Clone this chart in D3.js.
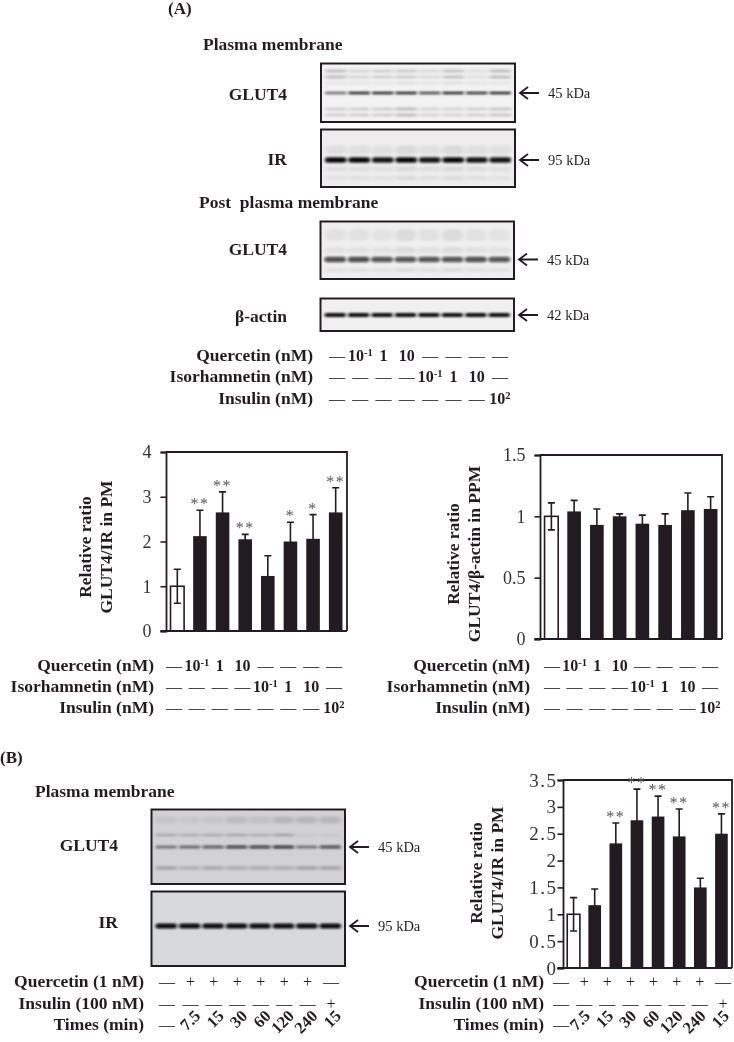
<!DOCTYPE html>
<html>
<head>
<meta charset="utf-8">
<script src="https://cdn.jsdelivr.net/npm/d3@7"></script>
<style>
  body { margin: 0; background: #fff; }
  svg { display: block; }
  text { font-family: "Liberation Serif", serif; fill: #231f20; white-space: pre; }
  .bold { font-weight: bold; }
</style>
</head>
<body>
<svg width="734" height="1042"></svg>
<script>
// bar values
const ratioIrA = [1.0, 2.12, 2.65, 2.05, 1.23, 2.0, 2.06, 2.65];
const errIrA = [0.38, 0.58, 0.46, 0.11, 0.45, 0.43, 0.54, 0.55];
const starsIrA = ["", "**", "**", "**", "", "*", "*", "**"];

const ratioActinA = [1.0, 1.04, 0.93, 1.0, 0.94, 0.93, 1.05, 1.06];
const errActinA = [0.11, 0.09, 0.13, 0.02, 0.07, 0.09, 0.14, 0.1];

const ratioIrB = [1.0, 1.17, 2.32, 2.75, 2.82, 2.45, 1.5, 2.5];
const errIrB = [0.31, 0.3, 0.38, 0.58, 0.38, 0.51, 0.17, 0.37];
const starsIrB = ["", "", "**", "**", "**", "**", "", "**"];

const ticksIrA = [0, 1, 2, 3, 4];
const ticksActinA = [0, 0.5, 1, 1.5];
const ticksIrB = [0, 0.5, 1, 1.5, 2, 2.5, 3, 3.5];

// treatment rows under the panels, "^" marks a superscript
const doseLabels = ["Quercetin (nM)", "Isorhamnetin (nM)", "Insulin (nM)"];
const quercetinDose = ["—", "10^-1", "1", "10", "—", "—", "—", "—"];
const isorhamnetinDose = ["—", "—", "—", "—", "10^-1", "1", "10", "—"];
const insulinDose = ["—", "—", "—", "—", "—", "—", "—", "10^2"];

const timeLabels = ["Quercetin (1 nM)", "Insulin (100 nM)", "Times (min)"];
const quercetinTime = ["—", "+", "+", "+", "+", "+", "+", "—"];
const insulinTime = ["—", "—", "—", "—", "—", "—", "—", "+"];
const minutes = ["—", "7.5", "15", "30", "60", "120", "240", "15"];

// band darkness per lane on the blots
const lanes = d3.range(8);
const glut4PmA = [0.6, 0.9, 0.9, 0.9, 0.75, 0.9, 0.85, 0.9];
const irPmA = [1, 1, 0.95, 1, 0.95, 1, 0.95, 0.95];
const glut4PpmA = [0.72, 0.72, 0.68, 0.68, 0.68, 0.68, 0.7, 0.68];
const actinPpmA = [1, 1, 1, 1, 1, 1, 1, 1];
const glut4PmB = [0.45, 0.5, 0.6, 0.75, 0.75, 0.8, 0.45, 0.7];
const irPmB = [1, 1, 1, 1, 1, 1, 1, 1];
const faintPmA = [0.14, 0.14, 0.14, 0.22, 0.12, 0.12, 0.14, 0.18];
const faintTopA = [0.22, 0.12, 0.14, 0.16, 0.1, 0.2, 0.08, 0.22];
const faintPmB = [0.2, 0.14, 0.18, 0.16, 0.16, 0.16, 0.2, 0.2];
const faintUpperB = [0.2, 0.18, 0.2, 0.22, 0.18, 0.24, 0.05, 0.06];
const faintTopB = [0.06, 0.05, 0.06, 0.1, 0.08, 0.12, 0.12, 0.12];
const smearLow = [0.06, 0.06, 0.05, 0.08, 0.06, 0.08, 0.06, 0.05];

const ink = "#231f20";
const svg = d3.select("svg");

const defs = svg.append("defs");
defs.append("filter").attr("id", "bandBlur").attr("x", "-20%").attr("y", "-150%")
  .attr("width", "140%").attr("height", "400%")
  .append("feGaussianBlur").attr("stdDeviation", "1.4 1.1");
defs.append("filter").attr("id", "smearBlur").attr("x", "-20%").attr("y", "-150%")
  .attr("width", "140%").attr("height", "400%")
  .append("feGaussianBlur").attr("stdDeviation", "2 1.2");
defs.append("filter").attr("id", "soft")
  .append("feGaussianBlur").attr("stdDeviation", 0.35);

const root = svg.append("g").attr("filter", "url(#soft)");

const labelSize = 17.5;
const tokenSize = 16;

function label(x, y, str, size, anchor, bold) {
  return root.append("text").attr("x", x).attr("y", y)
    .attr("text-anchor", anchor || "start")
    .attr("font-size", size)
    .classed("bold", !!bold)
    .text(str);
}

let blotId = 0;
function drawBlot(b) {
  const id = "blot" + (blotId++);
  const w = b.x1 - b.x0, h = b.y1 - b.y0;
  defs.append("clipPath").attr("id", id).append("rect")
    .attr("x", b.x0).attr("y", b.y0).attr("width", w).attr("height", h);
  const lane = d3.scaleBand().domain(lanes).range([b.x0 + 3, b.x1 - 3]).paddingInner(0.08).paddingOuter(0.04);
  const g = root.append("g").attr("clip-path", "url(#" + id + ")");
  g.append("rect").attr("x", b.x0).attr("y", b.y0).attr("width", w).attr("height", h).attr("fill", b.bg);
  b.bands.forEach(function(band, k) {
    g.append("g").attr("filter", k === 0 ? "url(#bandBlur)" : "url(#smearBlur)")
      .selectAll("rect").data(band.dark).join("rect")
      .attr("x", function(d, i) { return lane(i); })
      .attr("y", band.y - band.thick / 2)
      .attr("width", lane.bandwidth())
      .attr("height", band.thick)
      .attr("rx", band.thick / 2)
      .attr("fill", "#0c0c0c")
      .attr("opacity", function(d) { return d; });
  });
  root.append("rect").attr("x", b.x0).attr("y", b.y0).attr("width", w).attr("height", h)
    .attr("fill", "none").attr("stroke", ink).attr("stroke-width", 2);
  // arrow and size marker
  const ay = b.bands[0].y;
  root.append("path")
    .attr("d", "M" + (b.x1 + 24) + "," + ay + "H" + (b.x1 + 6) + "M" + (b.x1 + 13) + "," + (ay - 6) + "L" + (b.x1 + 5) + "," + ay + "L" + (b.x1 + 13) + "," + (ay + 6))
    .attr("fill", "none").attr("stroke", ink).attr("stroke-width", 1.8);
  label(b.x1 + 33, ay + 5, b.kda, 14.5);
}

function drawBars(c) {
  const x = d3.scaleBand().domain(lanes).range([c.x0, c.x1]).paddingInner(0.4).paddingOuter(0.2);
  const y = d3.scaleLinear().domain(c.domain).range([c.y1, c.y0]);
  const g = root.append("g");

  g.append("path")
    .attr("d", "M" + c.x0 + "," + c.y0 + "H" + c.x1 + "V" + c.y1)
    .attr("fill", "none").attr("stroke", ink).attr("stroke-width", 1.8);

  g.selectAll(".bar").data(c.values).join("rect")
    .attr("class", "bar")
    .attr("x", function(d, i) { return x(i); })
    .attr("y", function(d) { return y(d); })
    .attr("width", x.bandwidth())
    .attr("height", function(d) { return c.y1 - y(d); })
    .attr("fill", function(d, i) { return i === 0 ? "#fff" : ink; })
    .attr("stroke", ink).attr("stroke-width", function(d, i) { return i === 0 ? 1.6 : 0; });

  c.values.forEach(function(v, i) {
    const cx = x(i) + x.bandwidth() / 2;
    const hi = y(v + c.err[i]), lo = y(v - c.err[i]);
    g.append("path")
      .attr("d", "M" + cx + "," + lo + "V" + hi + "M" + (cx - 3.5) + "," + hi + "H" + (cx + 3.5) + "M" + (cx - 3.5) + "," + lo + "H" + (cx + 3.5))
      .attr("fill", "none").attr("stroke", ink).attr("stroke-width", 1.6);
    if (c.stars && c.stars[i]) {
      root.append("text").attr("x", cx).attr("y", hi - 1)
        .attr("text-anchor", "middle").attr("font-size", 16)
        .attr("letter-spacing", 1.5)
        .style("fill", "#555")
        .text(c.stars[i]);
    }
  });

  const axis = d3.axisLeft(y).tickValues(c.ticks).tickSize(5.5).tickPadding(c.tickPad).tickFormat(function(d) { return d; });
  const ax = g.append("g").attr("transform", "translate(" + c.x0 + ",0)").call(axis);
  ax.select(".domain").attr("stroke", ink).attr("stroke-width", 1.8);
  ax.selectAll(".tick line").attr("stroke", ink).attr("stroke-width", 1.6);
  ax.selectAll(".tick text").style("font-family", "Liberation Serif").style("font-size", c.tickSize + "px")
    .style("letter-spacing", c.tickSpread + "px").style("fill", "#333");

  g.append("line").attr("x1", c.x0 - 5.5).attr("x2", c.x1).attr("y1", c.y1).attr("y2", c.y1)
    .attr("stroke", ink).attr("stroke-width", 2);

  c.title.forEach(function(t, i) {
    const tx = c.titleX + i * 21;
    root.append("text").attr("class", "bold")
      .attr("transform", "translate(" + tx + "," + c.titleY + ") rotate(-90)")
      .attr("text-anchor", "middle").attr("font-size", labelSize)
      .text(t);
  });
  return x;
}

function drawRows(r) {
  const pos = d3.scalePoint().domain(lanes).range([r.first, r.last]);
  r.labels.forEach(function(t, i) {
    const rowY = r.y0 + i * r.dy;
    label(r.labelX, rowY, t, labelSize, "end", true);
    r.rows[i].forEach(function(tok, j) {
      const parts = tok.split("^");
      const el = root.append("text")
        .attr("x", pos(j)).attr("y", rowY)
        .attr("text-anchor", "middle").attr("font-size", tokenSize)
        .classed("bold", tok !== "—" && tok !== "+");
      el.append("tspan").text(parts[0]);
      if (parts[1]) {
        el.append("tspan").attr("dy", -5).attr("font-size", tokenSize * 0.66).text(parts[1]);
      }
    });
  });
}

function drawTimes(first, last, y, shift) {
  const pos = d3.scalePoint().domain(lanes).range([first, last]);
  minutes.forEach(function(m, i) {
    if (m === "—") {
      label(pos(i), y, m, tokenSize, "middle");
    } else {
      root.append("text").attr("class", "bold")
        .attr("transform", "translate(" + (pos(i) + shift) + "," + (y - 13) + ") rotate(-45)")
        .attr("text-anchor", "end").attr("font-size", 16.5)
        .text(m);
    }
  });
}

// panel A
label(168, 14, "(A)", 17, "start", true);
label(203, 50, "Plasma membrane", labelSize, "start", true);
label(287, 100, "GLUT4", labelSize, "end", true);
label(287, 165, "IR", labelSize, "end", true);
label(199, 208, "Post  plasma membrane", labelSize, "start", true);
label(287, 255, "GLUT4", labelSize, "end", true);
label(287, 322, "β-actin", labelSize, "end", true);

drawBlot({ x0: 321, x1: 515, y0: 63.5, y1: 122, bg: "#f2f2f2", kda: "45 kDa", bands: [
  { y: 93, thick: 2.6, dark: glut4PmA },
  { y: 71, thick: 3, dark: faintTopA },
  { y: 77, thick: 3, dark: faintTopA },
  { y: 83, thick: 3, dark: smearLow },
  { y: 109, thick: 3, dark: faintPmA },
  { y: 115, thick: 3, dark: faintPmA }
] });
drawBlot({ x0: 321, x1: 515, y0: 129.5, y1: 187, bg: "#ededed", kda: "95 kDa", bands: [
  { y: 160, thick: 5.5, dark: irPmA },
  { y: 150, thick: 9, dark: smearLow },
  { y: 169, thick: 5, dark: smearLow },
  { y: 178, thick: 4, dark: smearLow }
] });
drawBlot({ x0: 320.5, x1: 514, y0: 221.5, y1: 279, bg: "#efefef", kda: "45 kDa", bands: [
  { y: 259.5, thick: 5.5, dark: glut4PpmA },
  { y: 250, thick: 6, dark: smearLow },
  { y: 235, thick: 12, dark: smearLow },
  { y: 270, thick: 4, dark: smearLow }
] });
drawBlot({ x0: 320.5, x1: 514, y0: 298.5, y1: 331, bg: "#f0f0f0", kda: "42 kDa", bands: [
  { y: 315, thick: 4.2, dark: actinPpmA }
] });

drawRows({ labels: doseLabels, rows: [quercetinDose, isorhamnetinDose, insulinDose],
  labelX: 313, first: 337, last: 500, y0: 361, dy: 21.3 });

drawBars({ x0: 166, x1: 347, y0: 452, y1: 631, domain: [0, 4], values: ratioIrA, err: errIrA, tickPad: 9, tickSize: 18, tickSpread: 0,
  stars: starsIrA, ticks: ticksIrA, title: ["Relative ratio", "GLUT4/IR in PM"], titleX: 91, titleY: 547 });
drawRows({ labels: doseLabels, rows: [quercetinDose, isorhamnetinDose, insulinDose],
  labelX: 154, first: 174, last: 334, y0: 671, dy: 21 });

drawBars({ x0: 540, x1: 722, y0: 455, y1: 639, domain: [0, 1.5], values: ratioActinA, err: errActinA, tickPad: 9, tickSize: 18, tickSpread: 0,
  ticks: ticksActinA, title: ["Relative ratio", "GLUT4/β-actin in PPM"], titleX: 459, titleY: 554 });
drawRows({ labels: doseLabels, rows: [quercetinDose, isorhamnetinDose, insulinDose],
  labelX: 530, first: 552, last: 710, y0: 671, dy: 21 });

// panel B
label(0, 763, "(B)", 17, "start", true);
label(35, 797, "Plasma membrane", labelSize, "start", true);
label(118, 851, "GLUT4", labelSize, "end", true);
label(118, 928, "IR", labelSize, "end", true);

drawBlot({ x0: 151.5, x1: 345, y0: 809.5, y1: 884, bg: "#d2d2d4", kda: "45 kDa", bands: [
  { y: 847, thick: 3.2, dark: glut4PmB },
  { y: 835, thick: 2.6, dark: faintUpperB },
  { y: 868, thick: 4, dark: faintPmB },
  { y: 820, thick: 7, dark: faintTopB }
] });
drawBlot({ x0: 151.5, x1: 345, y0: 891.5, y1: 966, bg: "#d8d9db", kda: "95 kDa", bands: [
  { y: 926, thick: 5, dark: irPmB }
] });

const timeRows = [quercetinTime, insulinTime];
drawRows({ labels: timeLabels.slice(0, 2), rows: timeRows, labelX: 144, first: 167, last: 331, y0: 987, dy: 21.5 });
label(144, 1030, timeLabels[2], labelSize, "end", true);
drawTimes(167, 331, 1030, 11);

drawBars({ x0: 563, x1: 732, y0: 780, y1: 968, domain: [0, 3.5], values: ratioIrB, err: errIrB, tickPad: 0, tickSize: 19, tickSpread: 1.5,
  stars: starsIrB, ticks: ticksIrB, title: ["Relative ratio", "GLUT4/IR in PM"], titleX: 482, titleY: 873 });
drawRows({ labels: timeLabels.slice(0, 2), rows: timeRows, labelX: 544, first: 561, last: 723, y0: 987, dy: 21.5 });
label(544, 1030, timeLabels[2], labelSize, "end", true);
drawTimes(561, 723, 1030, 7);
</script>
</body>
</html>
